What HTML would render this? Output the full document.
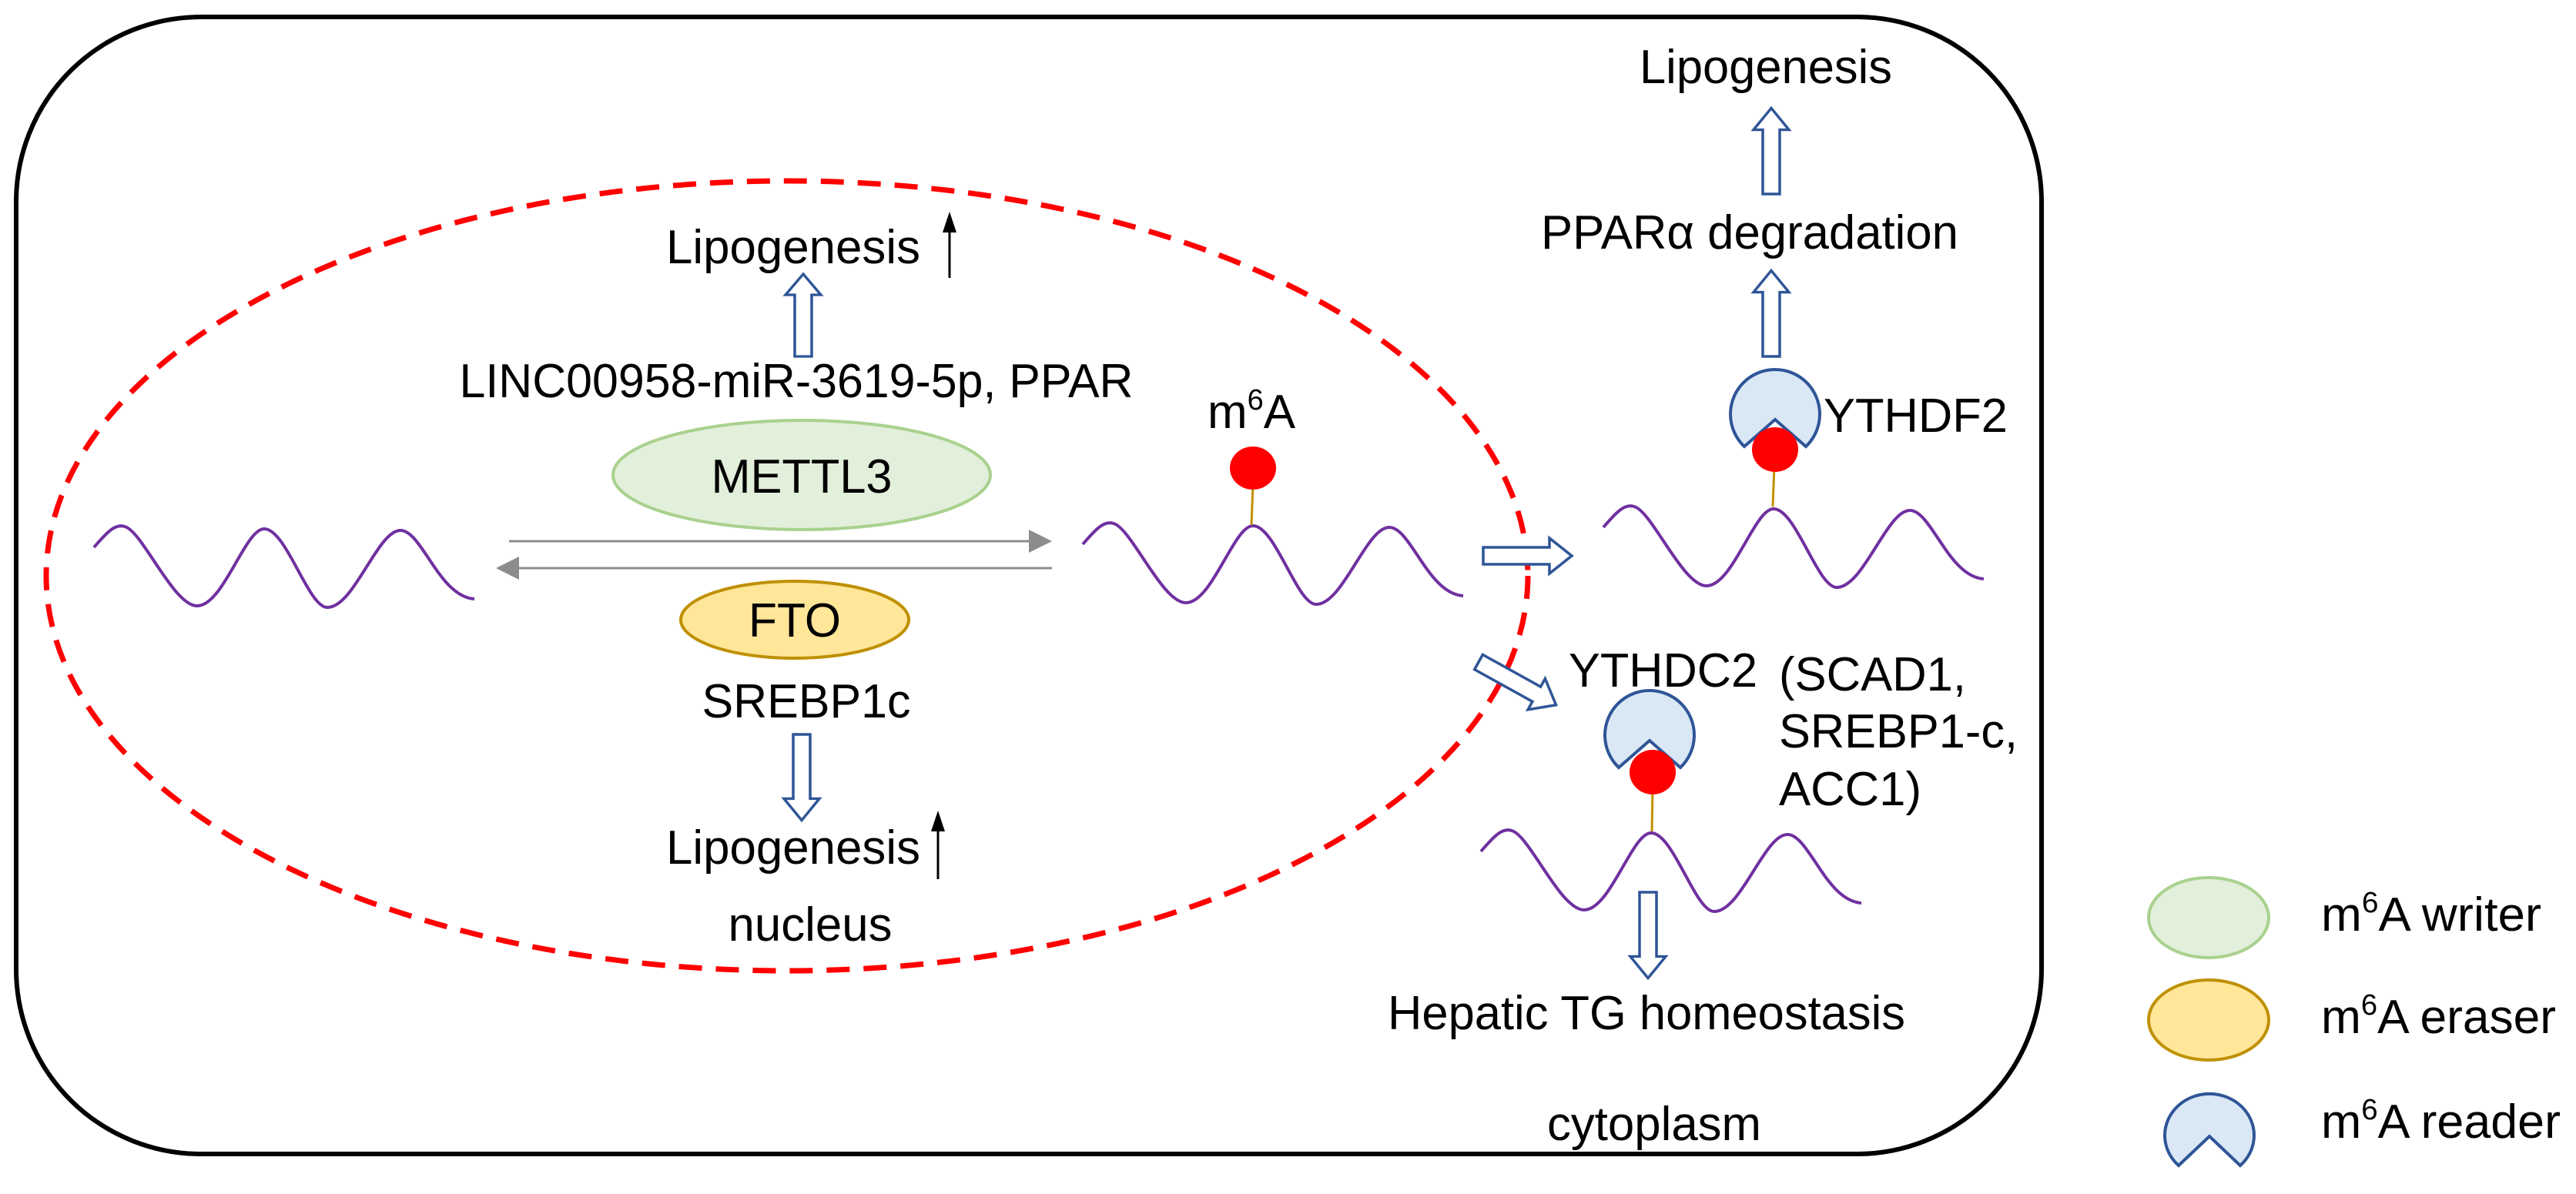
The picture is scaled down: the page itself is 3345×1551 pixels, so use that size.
<!DOCTYPE html>
<html><head><meta charset="utf-8"><style>
html,body{margin:0;padding:0;background:#fff;}
svg{display:block;}
text{font-family:"Liberation Sans",Arial,sans-serif;fill:#000;}
</style></head><body>
<svg width="3345" height="1551" viewBox="0 0 3345 1551" xmlns="http://www.w3.org/2000/svg">
<defs>
<path id="wave" d="M122 711 C140 690 150 680 162 684 C185 690 225 787 256 787 C290 787 318 687 343 687 C372 687 400 789 425 789 C460 789 490 689 520 689 C548 689 570 775 616 778" fill="none" stroke="#7030a0" stroke-width="4"/>
<g id="harrow"><path d="M0 -11 L86 -11 L86 -23 L115 0 L86 23 L86 11 L0 11 Z" fill="#fff" stroke="#2f5597" stroke-width="3.5" stroke-linejoin="miter"/></g>
</defs>
<!-- outer cell -->
<rect x="21" y="22" width="2630" height="1477" rx="240" ry="240" fill="none" stroke="#000" stroke-width="6"/>
<!-- nucleus -->
<ellipse cx="1022" cy="748" rx="962" ry="513" fill="none" stroke="#ff0000" stroke-width="7" stroke-dasharray="30,18"/>

<!-- waves -->
<use href="#wave"/>
<use href="#wave" transform="translate(1284,-4)"/>
<use href="#wave" transform="translate(1960,-26)"/>
<use href="#wave" transform="translate(1801,395)"/>

<!-- nucleus texts -->
<text x="1030" y="342" font-size="62" text-anchor="middle" textLength="330" lengthAdjust="spacingAndGlyphs">Lipogenesis</text>
<line x1="1233" y1="361" x2="1233" y2="300" stroke="#000" stroke-width="3"/>
<path d="M1233 275 L1224 302 L1242 302 Z" fill="#000"/>
<g transform="translate(1043,463) rotate(-90)"><use href="#harrow" transform="scale(0.93,1)"/></g>
<text x="1034" y="516" font-size="62" text-anchor="middle" textLength="875" lengthAdjust="spacingAndGlyphs">LINC00958-miR-3619-5p, PPAR</text>

<ellipse cx="1041" cy="617" rx="245" ry="71" fill="#e2efda" stroke="#a9d18e" stroke-width="4"/>
<text x="1041" y="640" font-size="62" text-anchor="middle" textLength="235" lengthAdjust="spacingAndGlyphs">METTL3</text>

<line x1="661" y1="703" x2="1340" y2="703" stroke="#8c8c8c" stroke-width="3"/>
<path d="M1366 703 L1336 688 L1336 718 Z" fill="#8c8c8c"/>
<line x1="670" y1="738" x2="1366" y2="738" stroke="#8c8c8c" stroke-width="3"/>
<path d="M644 738 L674 723 L674 753 Z" fill="#8c8c8c"/>

<ellipse cx="1032" cy="805" rx="148" ry="50" fill="#ffe699" stroke="#bf9000" stroke-width="4"/>
<text x="1032" y="827" font-size="62" text-anchor="middle" textLength="120" lengthAdjust="spacingAndGlyphs">FTO</text>
<text x="1047" y="932" font-size="62" text-anchor="middle" textLength="271" lengthAdjust="spacingAndGlyphs">SREBP1c</text>
<g transform="translate(1041,954) rotate(90)"><use href="#harrow" transform="scale(0.97,1)"/></g>
<text x="1030" y="1122" font-size="62" text-anchor="middle" textLength="330" lengthAdjust="spacingAndGlyphs">Lipogenesis</text>
<line x1="1218" y1="1142" x2="1218" y2="1078" stroke="#000" stroke-width="3"/>
<path d="M1218 1053 L1209 1080 L1227 1080 Z" fill="#000"/>
<text x="1052" y="1222" font-size="62" text-anchor="middle" textLength="213" lengthAdjust="spacingAndGlyphs">nucleus</text>

<!-- m6A middle -->
<text x="1568" y="556" font-size="62">m<tspan font-size="38" dy="-24">6</tspan><tspan dy="24">A</tspan></text>
<line x1="1627" y1="630" x2="1625" y2="682" stroke="#c09000" stroke-width="3"/>
<ellipse cx="1627" cy="608" rx="30" ry="28" fill="#ff0000"/>

<!-- arrows out -->
<use href="#harrow" transform="translate(1926,722)"/>
<use href="#harrow" transform="translate(1920,860) rotate(29)"/>

<!-- YTHDF2 branch -->
<line x1="2304" y1="605" x2="2302" y2="658" stroke="#c09000" stroke-width="3"/>
<path d="M2265 580 A58 58 0 1 1 2345 580 L2305 545 Z" fill="#dae8f6" stroke="#2f5597" stroke-width="4" stroke-linejoin="miter"/>
<ellipse cx="2305" cy="584" rx="30" ry="29" fill="#ff0000"/>
<text x="2368" y="561" font-size="62" textLength="239" lengthAdjust="spacingAndGlyphs">YTHDF2</text>
<g transform="translate(2300,463) rotate(-90)"><use href="#harrow" transform="scale(0.97,1)"/></g>
<text x="2272" y="323" font-size="62" text-anchor="middle" textLength="542" lengthAdjust="spacingAndGlyphs">PPARα degradation</text>
<g transform="translate(2300,252) rotate(-90)"><use href="#harrow" transform="scale(0.97,1)"/></g>
<text x="2293" y="108" font-size="62" text-anchor="middle" textLength="328" lengthAdjust="spacingAndGlyphs">Lipogenesis</text>

<!-- YTHDC2 branch -->
<line x1="2146" y1="1025" x2="2145" y2="1080" stroke="#c09000" stroke-width="3"/>
<path d="M2102 997 A58 58 0 1 1 2182 997 L2142 962 Z" fill="#dae8f6" stroke="#2f5597" stroke-width="4" stroke-linejoin="miter"/>
<ellipse cx="2146" cy="1003" rx="30" ry="29" fill="#ff0000"/>
<text x="2037" y="892" font-size="62" textLength="245" lengthAdjust="spacingAndGlyphs">YTHDC2</text>
<text x="2310" y="897" font-size="62" textLength="243" lengthAdjust="spacingAndGlyphs">(SCAD1,</text>
<text x="2310" y="971" font-size="62" textLength="310" lengthAdjust="spacingAndGlyphs">SREBP1-c,</text>
<text x="2310" y="1046" font-size="62" textLength="185" lengthAdjust="spacingAndGlyphs">ACC1)</text>
<g transform="translate(2140,1159) rotate(90)"><use href="#harrow" transform="scale(0.97,1)"/></g>
<text x="2138" y="1337" font-size="62" text-anchor="middle" textLength="672" lengthAdjust="spacingAndGlyphs">Hepatic TG homeostasis</text>
<text x="2148" y="1481" font-size="62" text-anchor="middle" textLength="278" lengthAdjust="spacingAndGlyphs">cytoplasm</text>

<!-- legend -->
<ellipse cx="2868" cy="1192" rx="78" ry="52" fill="#e2efda" stroke="#a9d18e" stroke-width="4"/>
<ellipse cx="2868" cy="1325" rx="78" ry="52" fill="#ffe699" stroke="#bf9000" stroke-width="4"/>
<path d="M2829 1514 A58 54 0 1 1 2909 1514 L2869 1476 Z" fill="#dae8f6" stroke="#2f5597" stroke-width="4" stroke-linejoin="miter"/>
<text x="3014" y="1209" font-size="62" textLength="286" lengthAdjust="spacingAndGlyphs">m<tspan font-size="38" dy="-24">6</tspan><tspan dy="24">A writer</tspan></text>
<text x="3014" y="1342" font-size="62" textLength="305" lengthAdjust="spacingAndGlyphs">m<tspan font-size="38" dy="-24">6</tspan><tspan dy="24">A eraser</tspan></text>
<text x="3014" y="1478" font-size="62" textLength="311" lengthAdjust="spacingAndGlyphs">m<tspan font-size="38" dy="-24">6</tspan><tspan dy="24">A reader</tspan></text>
</svg>
</body></html>
